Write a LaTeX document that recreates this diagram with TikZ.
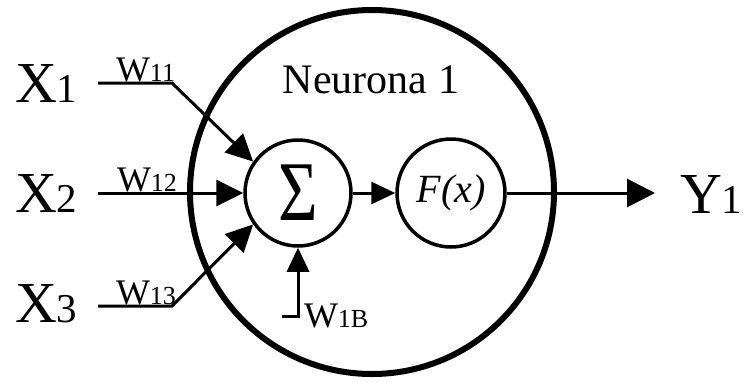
\documentclass[tikz,border=0pt]{standalone}
\usepackage{fontspec}
\usepackage{graphicx}
\setmainfont{Liberation Serif}
\usetikzlibrary{arrows.meta}
\tikzset{
  txt/.style={anchor=base west, inner sep=0pt, outer sep=0pt},
  bigx/.style={txt, font=\fontsize{58}{58}\selectfont},
  wlab/.style={txt, font=\fontsize{36}{36}\selectfont},
  conn/.style={line width=3pt, line cap=butt, line join=miter},
  inarrow/.style={conn, -{Triangle[length=27pt,width=26pt]}},
  smarrow/.style={conn, -{Triangle[length=24pt,width=22pt]}},
  unit/.style={draw, circle, line width=3.5pt, inner sep=0pt},
}
\newcommand{\sm}[1]{{\fontsize{41}{41}\selectfont #1}}
\newcommand{\ws}[1]{{\fontsize{26}{26}\selectfont #1}}
\begin{document}
\begin{tikzpicture}[x=1pt,y=-1pt]
\useasboundingbox (0,0) rectangle (746,381);
% neuron body
\node[draw, circle, line width=6pt, minimum size=364pt, inner sep=0pt] (body) at (372,192) {};
\node[txt, font=\fontsize{42}{42}\selectfont, anchor=base] (title) at (371,93) {Neurona 1};
% summation and activation
\node[unit, minimum size=106pt] (sum) at (298,193) {\raisebox{-6pt}{\fontsize{85}{85}\selectfont\scalebox{0.8}[1]{Σ}}};
\node[unit, minimum size=108pt, font=\fontsize{40}{40}\selectfont\itshape] (act) at (451,193) {F(x)};
% inputs
\node[bigx] (x1) at (15,102) {X\sm{1}};
\node[bigx] (x2) at (15,212) {X\sm{2}};
\node[bigx] (x3) at (15,322) {X\sm{3}};
\node[wlab] (w11) at (116,81) {W\ws{11}};
\node[wlab] (w12) at (117,191) {W\ws{12}};
\node[wlab] (w13) at (116,304) {W\ws{13}};
\coordinate (s1) at (98,83);
\coordinate (k1) at (172,83);
\coordinate (s2) at (98,193);
\coordinate (s3) at (98,306);
\coordinate (k3) at (172,306);
\draw[inarrow] (s1) -- (k1) -- (sum.145);
\draw[inarrow] (s2) -- (sum.west);
\draw[inarrow] (s3) -- (k3) -- (sum.215);
% bias
\coordinate (b0) at (282,316);
\coordinate (b1) at (298,316);
\draw[smarrow] (b0) -- (b1) -- (sum.south);
\node[wlab] (w1b) at (304,327) {W\ws{1B}};
% internal and output
\draw[smarrow] (sum.east) -- (act.west);
\coordinate (out) at (655,193);
\draw[conn, -{Triangle[length=28pt,width=28pt]}] (act.east) -- (out);
\node[bigx] (y1) at (680,213) {Y\sm{1}};
\end{tikzpicture}
\end{document}
